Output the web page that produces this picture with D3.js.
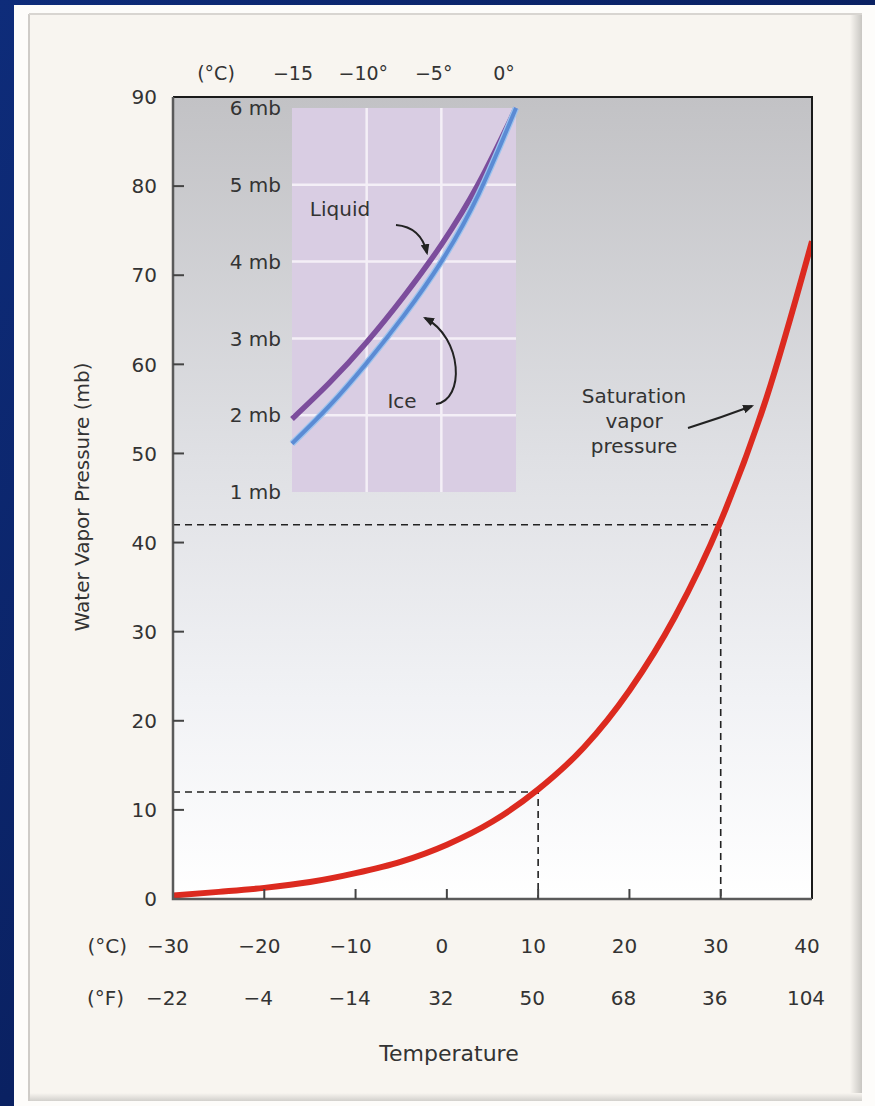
<!DOCTYPE html>
<html><head><meta charset="utf-8">
<script src="https://cdn.jsdelivr.net/npm/d3@7"></script>
<style>html,body{margin:0;padding:0;background:#0b1e5a;overflow:hidden} svg{display:block}</style>
</head><body><svg id="c" width="875" height="1106"></svg>
<script>
// ---- data ----
const tempsC = [-30,-25,-20,-15,-10,-5,0,5,10,15,20,25,30,35,40];
const svp = [0.4,0.8,1.25,1.9,2.9,4.2,6.1,8.7,12.3,17.0,23.4,31.7,42.4,56.2,73.8];
const yTicks = [0,10,20,30,40,50,60,70,80,90];
const xTicksC = [-30,-20,-10,0,10,20,30,40];
const xLabelsC = ["−30","−20","−10","0","10","20","30","40"];
const xLabelsF = ["−22","−4","−14","32","50","68","36","104"];
const refTemps = [10,30];
const refPress = [12,42];
const insetTemps = [-15,-12.5,-10,-7.5,-5,-2.5,0];
const insetLiquid = [1.95,2.42,2.95,3.55,4.22,5.02,6.0];
const insetIce = [1.63,2.12,2.68,3.3,4.0,4.88,6.0];
const insetYTicks = [1,2,3,4,5,6];
const insetYLabels = ["1 mb","2 mb","3 mb","4 mb","5 mb","6 mb"];
const insetXTicks = [-15,-10,-5,0];
const insetXLabels = ["−15","−10°","−5°","0°"];

const FONT = "'DejaVu Sans', sans-serif";
const TXT = "#333";
const svg = d3.select("#c");
const defs = svg.append("defs");

// gradients
const bg = defs.append("linearGradient").attr("id","bg").attr("x1",0).attr("y1",0).attr("x2",1).attr("y2",1);
bg.append("stop").attr("offset","0%").attr("stop-color","#0e2c7a");
bg.append("stop").attr("offset","100%").attr("stop-color","#06164a");
const pg = defs.append("linearGradient").attr("id","plotbg").attr("x1",0).attr("y1",0).attr("x2",0).attr("y2",1);
pg.append("stop").attr("offset","0%").attr("stop-color","#c2c2c5");
pg.append("stop").attr("offset","45%").attr("stop-color","#dfe0e4");
pg.append("stop").attr("offset","75%").attr("stop-color","#f1f2f5");
pg.append("stop").attr("offset","100%").attr("stop-color","#ffffff");
const sr = defs.append("linearGradient").attr("id","shR").attr("x1",0).attr("y1",0).attr("x2",1).attr("y2",0);
sr.append("stop").attr("offset","0%").attr("stop-color","#f8f5f0");
sr.append("stop").attr("offset","100%").attr("stop-color","#c8c6c2");
const sb = defs.append("linearGradient").attr("id","shB").attr("x1",0).attr("y1",0).attr("x2",0).attr("y2",1);
sb.append("stop").attr("offset","0%").attr("stop-color","#f8f5f0");
sb.append("stop").attr("offset","100%").attr("stop-color","#d2d0cc");

defs.append("marker").attr("id","ah").attr("viewBox","0 0 10 8").attr("refX",8).attr("refY",4)
  .attr("markerWidth",11).attr("markerHeight",9).attr("markerUnits","userSpaceOnUse").attr("orient","auto")
  .append("path").attr("d","M0,0 L10,4 L0,8 Z").attr("fill","#222");

// background + panel
svg.append("rect").attr("width",875).attr("height",1106).attr("fill","url(#bg)");
svg.append("rect").attr("x",14).attr("y",5).attr("width",861).attr("height",1101).attr("fill","#fdfcfa");
svg.append("rect").attr("x",29).attr("y",14).attr("width",833).attr("height",1087).attr("fill","#f8f5f0");
svg.append("rect").attr("x",850).attr("y",14).attr("width",12).attr("height",1087).attr("fill","url(#shR)");
svg.append("rect").attr("x",29).attr("y",1093).attr("width",833).attr("height",8).attr("fill","url(#shB)");
svg.append("line").attr("x1",29).attr("x2",29).attr("y1",14).attr("y2",1101).attr("stroke","#cfccc8").attr("stroke-width",2);
svg.append("line").attr("x1",29).attr("x2",862).attr("y1",14).attr("y2",14).attr("stroke","#d8d5d1").attr("stroke-width",2);

// scales
const x = d3.scaleLinear().domain([-30,40]).range([173,812]);
const y = d3.scaleLinear().domain([0,90]).range([899,97]);
const xi = d3.scaleLinear().domain([-15,0]).range([292,516]);
const yi = d3.scaleLinear().domain([1,6]).range([492,108]);
const xiLab = d3.scaleLinear().domain([-15,0]).range([293,504]);

// plot area
svg.append("rect").attr("x",x(-30)).attr("y",y(90)).attr("width",x(40)-x(-30)).attr("height",y(0)-y(90)).attr("fill","url(#plotbg)");

// inset
const ins = svg.append("g");
ins.append("rect").attr("x",xi(-15)).attr("y",yi(6)).attr("width",xi(0)-xi(-15)).attr("height",yi(1)-yi(6)).attr("fill","#d9cde3");
ins.selectAll(".vg").data([-10,-5]).join("line").attr("x1",d=>xi(d)).attr("x2",d=>xi(d)).attr("y1",yi(6)).attr("y2",yi(1))
  .attr("stroke","#f4eff7").attr("stroke-width",2.5);
ins.selectAll(".hg").data([2,3,4,5]).join("line").attr("y1",d=>yi(d)).attr("y2",d=>yi(d)).attr("x1",xi(-15)).attr("x2",xi(0))
  .attr("stroke","#f4eff7").attr("stroke-width",2.5);
ins.selectAll(".yl").data(insetYTicks).join("text").attr("x",281).attr("y",d=>yi(d)).attr("dy","0.36em")
  .attr("text-anchor","end").attr("font-family",FONT).attr("font-size",20).attr("fill",TXT).text((d,i)=>insetYLabels[i]);
const li = d3.line().x((d,i)=>xi(insetTemps[i])).y(d=>yi(d)).curve(d3.curveNatural);
ins.append("path").attr("d",li(insetLiquid)).attr("fill","none").attr("stroke","#7c4d9c").attr("stroke-width",5.5);
ins.append("path").attr("d",li(insetIce)).attr("fill","none").attr("stroke","#9cc3ee").attr("stroke-width",6.5);
ins.append("path").attr("d",li(insetIce)).attr("fill","none").attr("stroke","#5b8bd4").attr("stroke-width",4);

// inset annotations
ins.append("text").attr("x",340).attr("y",216).attr("text-anchor","middle").attr("font-family",FONT).attr("font-size",20).attr("fill",TXT).text("Liquid");
ins.append("path").attr("d","M396,225 Q421,227 427,253").attr("fill","none").attr("stroke","#222").attr("stroke-width",2).attr("marker-end","url(#ah)");
ins.append("text").attr("x",402).attr("y",408).attr("text-anchor","middle").attr("font-family",FONT).attr("font-size",20).attr("fill",TXT).text("Ice");
ins.append("path").attr("d","M436,404 C465,400 463,338 425,318").attr("fill","none").attr("stroke","#222").attr("stroke-width",2).attr("marker-end","url(#ah)");

// top inset labels
svg.append("text").attr("x",216).attr("y",80).attr("text-anchor","middle").attr("font-family",FONT).attr("font-size",19).attr("fill",TXT).text("(°C)");
svg.selectAll(".tl").data(insetXTicks).join("text").attr("x",d=>xiLab(d)).attr("y",80).attr("text-anchor","middle")
  .attr("font-family",FONT).attr("font-size",19).attr("fill",TXT).text((d,i)=>insetXLabels[i]);

// main curve (clipped to plot)
defs.append("clipPath").attr("id","pc").append("rect").attr("x",x(-30)).attr("y",y(90)).attr("width",x(40)-x(-30)).attr("height",y(0)-y(90));
const line = d3.line().x((d,i)=>x(tempsC[i])).y(d=>y(d)).curve(d3.curveMonotoneX);

// dashed reference lines
refTemps.forEach((t,i)=>{
  svg.append("path").attr("d",`M${x(-30)},${y(refPress[i])} H${x(t)} V${y(0)}`).attr("fill","none")
    .attr("stroke","#222").attr("stroke-width",1.6).attr("stroke-dasharray","7,5");
});

svg.append("path").attr("d",line(svp)).attr("fill","none").attr("stroke","#dc2a1f").attr("stroke-width",6).attr("clip-path","url(#pc)");

// frame
svg.append("path").attr("d",`M${x(-30)},${y(90)} H${x(40)} V${y(0)}`).attr("fill","none").attr("stroke","#1a1a1a").attr("stroke-width",2);
svg.append("path").attr("d",`M${x(-30)},${y(90)} V${y(0)} H${x(40)}`).attr("fill","none").attr("stroke","#5a5a5a").attr("stroke-width",2.5);

// y ticks + labels
svg.selectAll(".yt").data(yTicks.filter(d=>d>0&&d<90)).join("line").attr("x1",x(-30)).attr("x2",x(-30)+11)
  .attr("y1",d=>y(d)).attr("y2",d=>y(d)).attr("stroke","#444").attr("stroke-width",2);
svg.selectAll(".ytl").data(yTicks).join("text").attr("x",157).attr("y",d=>y(d)).attr("dy","0.36em").attr("text-anchor","end")
  .attr("font-family",FONT).attr("font-size",20).attr("fill",TXT).text(d=>d);

// x ticks + labels
svg.selectAll(".xt").data(xTicksC.filter(d=>d>-30&&d<40)).join("line").attr("x1",d=>x(d)).attr("x2",d=>x(d))
  .attr("y1",y(0)).attr("y2",y(0)-10).attr("stroke","#444").attr("stroke-width",2);
svg.selectAll(".xcl").data(xTicksC).join("text").attr("x",d=>x(d)-5).attr("y",953).attr("text-anchor","middle")
  .attr("font-family",FONT).attr("font-size",20).attr("fill",TXT).text((d,i)=>xLabelsC[i]);
svg.selectAll(".xfl").data(xTicksC).join("text").attr("x",d=>x(d)-6).attr("y",1005).attr("text-anchor","middle")
  .attr("font-family",FONT).attr("font-size",20).attr("fill",TXT).text((d,i)=>xLabelsF[i]);
svg.append("text").attr("x",127).attr("y",953).attr("text-anchor","end").attr("font-family",FONT).attr("font-size",20).attr("fill",TXT).text("(°C)");
svg.append("text").attr("x",124).attr("y",1005).attr("text-anchor","end").attr("font-family",FONT).attr("font-size",20).attr("fill",TXT).text("(°F)");
svg.append("text").attr("x",449).attr("y",1061).attr("text-anchor","middle").attr("font-family",FONT).attr("font-size",22).attr("fill",TXT).text("Temperature");
svg.append("text").attr("transform","translate(82,497) rotate(-90)").attr("dy","0.36em").attr("text-anchor","middle")
  .attr("font-family",FONT).attr("font-size",20).attr("fill",TXT).text("Water Vapor Pressure (mb)");

// saturation annotation
const sat = svg.append("text").attr("text-anchor","middle").attr("font-family",FONT).attr("font-size",20).attr("fill",TXT);
["Saturation","vapor","pressure"].forEach((s,i)=>sat.append("tspan").attr("x",634).attr("y",403+i*25).text(s));
svg.append("path").attr("d","M688,428 Q720,418 752,406").attr("fill","none").attr("stroke","#222").attr("stroke-width",2).attr("marker-end","url(#ah)");
</script></body></html>
